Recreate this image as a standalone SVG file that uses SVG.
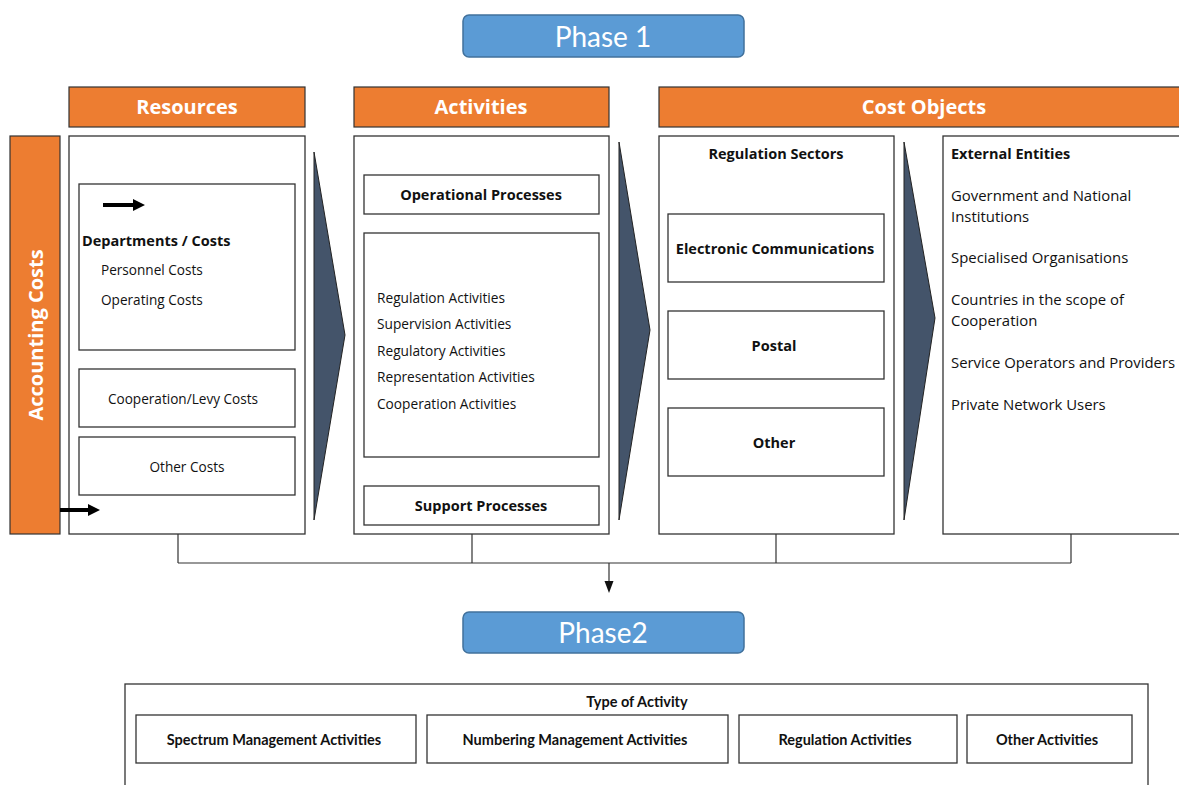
<svg xmlns="http://www.w3.org/2000/svg" width="1179" height="785" viewBox="0 0 1179 785">
<defs>
<style>
.phase{fill:#5B9BD5;stroke:#41719C;stroke-width:1.5}
.ptxt{font-family:Lato,"Open Sans",sans-serif;font-size:28px;fill:#fff;text-anchor:middle}
.hdr{fill:#ED7D31;stroke:#333;stroke-width:1.2}
.htxt{font-family:"Open Sans","Liberation Sans",sans-serif;font-weight:bold;font-size:20px;fill:#fff;text-anchor:middle}
.box{fill:#fff;stroke:#333;stroke-width:1.3}
.t{font-family:"Open Sans","Liberation Sans",sans-serif;font-size:13.7px;fill:#111}
.r{font-size:13.6px}
.e{font-size:14.9px}
.b{font-family:"Open Sans","Liberation Sans",sans-serif;font-size:14.5px;font-weight:bold;fill:#111}
.c{text-anchor:middle}
.chev{fill:#44546A;stroke:#222;stroke-width:1}
.conn{fill:none;stroke:#333;stroke-width:1.2}
.sm{font-family:Lato,"Liberation Sans",sans-serif;font-size:14.5px;font-weight:bold;fill:#111;text-anchor:middle}
</style>
</defs>
<rect width="1179" height="785" fill="#fff"/>

<g id="phase1">
<rect class="phase" x="463" y="15" width="281" height="42" rx="6"/>
<text class="ptxt" x="603" y="47">Phase 1</text>
</g>

<g id="hdr-resources">
<rect class="hdr" x="69" y="87" width="236" height="40"/>
<text class="htxt" x="187" y="114">Resources</text>
</g>
<g id="hdr-activities">
<rect class="hdr" x="354" y="87" width="255" height="40"/>
<text class="htxt" x="481" y="114">Activities</text>
</g>
<g id="hdr-costobjects">
<rect class="hdr" x="659" y="87" width="530" height="40"/>
<text class="htxt" x="924" y="114">Cost Objects</text>
</g>

<g id="accounting-costs">
<rect class="hdr" x="10" y="136" width="50" height="398"/>
<text class="htxt" transform="translate(43,335) rotate(-90)" x="0" y="0">Accounting Costs</text>
</g>

<g id="resources">
<rect class="box" x="69" y="136" width="236" height="398"/>
<g id="departments">
<rect class="box" x="79" y="184" width="216" height="166"/>
<path d="M103,203 H133 V199 L145,205 L133,211 V207 H103 Z" fill="#000"/>
<text class="b" x="82" y="246">Departments / Costs</text>
<text class="t r" x="101" y="275">Personnel Costs</text>
<text class="t r" x="101" y="305">Operating Costs</text>
</g>
<g id="coop-levy">
<rect class="box" x="79" y="369" width="216" height="58"/>
<text class="t r c" x="183" y="404">Cooperation/Levy Costs</text>
</g>
<g id="other-costs">
<rect class="box" x="79" y="437" width="216" height="58"/>
<text class="t r c" x="187" y="472">Other Costs</text>
</g>
<path d="M60,508 H88 V504 L100,510 L88,516 V512 H60 Z" fill="#000"/>
</g>

<g id="chevron1"><polygon class="chev" points="314,152 345,335 314,520"/></g>

<g id="activities">
<rect class="box" x="354" y="136" width="255" height="398"/>
<g id="operational">
<rect class="box" x="364" y="175" width="235" height="39"/>
<text class="b c" x="481" y="200">Operational Processes</text>
</g>
<g id="activity-list">
<rect class="box" x="364" y="233" width="235" height="224"/>
<text class="t" x="377" y="303">Regulation Activities</text>
<text class="t" x="377" y="329">Supervision Activities</text>
<text class="t" x="377" y="356">Regulatory Activities</text>
<text class="t" x="377" y="382">Representation Activities</text>
<text class="t" x="377" y="409">Cooperation Activities</text>
</g>
<g id="support">
<rect class="box" x="364" y="486" width="235" height="39"/>
<text class="b c" x="481" y="511">Support Processes</text>
</g>
</g>

<g id="chevron2"><polygon class="chev" points="619,142 650,330 619,520"/></g>

<g id="regulation-sectors">
<rect class="box" x="659" y="136" width="235" height="398"/>
<text class="b c" x="776" y="159">Regulation Sectors</text>
<g id="electronic">
<rect class="box" x="668" y="214" width="216" height="68"/>
<text class="b c" x="775" y="254">Electronic Communications</text>
</g>
<g id="postal">
<rect class="box" x="668" y="311" width="216" height="68"/>
<text class="b c" x="774" y="351">Postal</text>
</g>
<g id="other-sector">
<rect class="box" x="668" y="408" width="216" height="68"/>
<text class="b c" x="774" y="448">Other</text>
</g>
</g>

<g id="chevron3"><polygon class="chev" points="904,142 935,318 904,520"/></g>

<g id="external-entities">
<rect class="box" x="943" y="136" width="250" height="398"/>
<text class="b" x="951" y="159">External Entities</text>
<text class="t e" x="951" y="201">Government and National</text>
<text class="t e" x="951" y="222">Institutions</text>
<text class="t e" x="951" y="263">Specialised Organisations</text>
<text class="t e" x="951" y="305">Countries in the scope of</text>
<text class="t e" x="951" y="326">Cooperation</text>
<text class="t e" x="951" y="368">Service Operators and Providers</text>
<text class="t e" x="951" y="410">Private Network Users</text>
</g>

<g id="connectors">
<path class="conn" d="M178,534 V563 M472,534 V563 M776,534 V563 M1071,534 V563 M178,563 H1071"/>
<path class="conn" d="M609,563 V583"/>
<polygon points="604.5,581 613.5,581 609,593" fill="#111"/>
</g>

<g id="phase2">
<rect class="phase" x="463" y="612" width="281" height="41" rx="6"/>
<text class="ptxt" x="603" y="643">Phase2</text>
</g>

<g id="type-of-activity">
<rect class="box" x="125" y="684" width="1023" height="120"/>
<text class="sm" x="637" y="707">Type of Activity</text>
<g id="spectrum">
<rect class="box" x="136" y="715" width="280" height="48"/>
<text class="sm" x="274" y="745">Spectrum Management Activities</text>
</g>
<g id="numbering">
<rect class="box" x="427" y="715" width="301" height="48"/>
<text class="sm" x="575" y="745">Numbering  Management Activities</text>
</g>
<g id="regulation">
<rect class="box" x="739" y="715" width="218" height="48"/>
<text class="sm" x="845" y="745">Regulation Activities</text>
</g>
<g id="other-activities">
<rect class="box" x="967" y="715" width="165" height="48"/>
<text class="sm" x="1047" y="745">Other Activities</text>
</g>
</g>
</svg>
